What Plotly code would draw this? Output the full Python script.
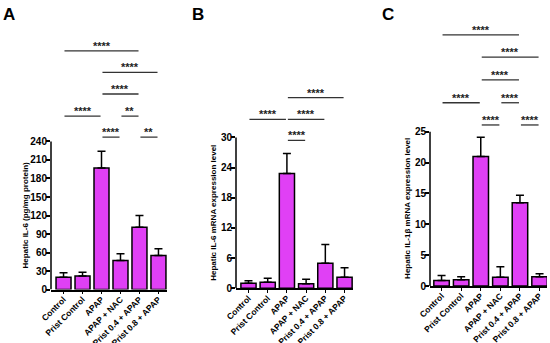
import plotly.graph_objects as go

categories = ["Control", "Prist Control", "APAP", "APAP + NAC", "Prist 0.4 + APAP", "Prist 0.8 + APAP"]

# Panel A: Hepatic IL-6 (pg/mg protein)
a_mean = [20, 22, 197, 47, 101, 55]
a_err = [7, 6, 27, 11, 19, 11]
a_ticks = [0, 30, 60, 90, 120, 150, 180, 210, 240]
a_sig = [(0, 4, 387, "****"), (2, 5, 352, "****"), (2, 4, 317, "****"),
         (0, 2, 281, "****"), (3, 4, 281, "**"), (2, 3, 247, "****"), (4, 5, 247, "**")]

# Panel B: Hepatic IL-6 mRNA expression level
b_mean = [1.0, 1.2, 22.8, 0.9, 5.0, 2.2]
b_err = [0.5, 0.8, 4.0, 0.9, 3.7, 1.9]
b_ticks = [0, 6, 12, 18, 24, 30]
b_sig = [(2, 5, 37.9, "****"), (0, 2, 33.6, "****"), (2, 4, 33.6, "****"), (2, 3, 29.4, "****")]

# Panel C: Hepatic IL-1β mRNA expression level
c_mean = [0.9, 1.0, 21.0, 1.4, 13.5, 1.5]
c_err = [0.8, 0.5, 3.1, 1.7, 1.2, 0.5]
c_ticks = [0, 5, 10, 15, 20, 25]
c_sig = [(0, 4, 40.7, "****"), (2, 5, 37.1, "****"), (2, 4, 33.4, "****"),
         (0, 2, 29.7, "****"), (3, 4, 29.7, "****"), (2, 3, 26.1, "****"), (4, 5, 26.1, "****")]

FONT = "Liberation Sans, Arial, sans-serif"
BAR = "#E040F5"
W, H = 550, 343

panels = [
    dict(mean=a_mean, err=a_err, ticks=a_ticks, sig=a_sig, xdom=(51, 167), xr=(-0.66, 5.45),
         y0px=289.5, ppu=0.6167, title="Hepatic IL-6 (pg/mg protein)", tx=25, letter="A", lx=9),
    dict(mean=b_mean, err=b_err, ticks=b_ticks, sig=b_sig, xdom=(236, 353), xr=(-0.65, 5.44),
         y0px=288.3, ppu=5.03, title="Hepatic IL-6 mRNA expression level", tx=214, letter="B", lx=198),
    dict(mean=c_mean, err=c_err, ticks=c_ticks, sig=c_sig, xdom=(430, 547), xr=(-0.59, 5.38),
         y0px=286.0, ppu=6.17, title="Hepatic IL-1β mRNA expression level", tx=408, letter="C", lx=388),
]

TOPPX = 18
fig = go.Figure()
shapes = []
annotations = []
for k, p in enumerate(panels):
    n = "" if k == 0 else str(k + 1)
    xa, ya = "x" + n, "y" + n
    fig.add_trace(go.Bar(
        x=list(range(len(categories))), y=p["mean"], xaxis=xa, yaxis=ya, width=0.79,
        marker=dict(color=BAR, line=dict(color="black", width=1.5)),
        error_y=dict(type="data", array=p["err"], arrayminus=[0] * 6, symmetric=False,
                     color="black", thickness=1.5, width=4),
        showlegend=False))
    ytop = (p["y0px"] - TOPPX) / p["ppu"]
    fig.layout["xaxis" + n] = dict(
        domain=[p["xdom"][0] / W, p["xdom"][1] / W], range=list(p["xr"]), anchor=ya,
        tickmode="array", tickvals=list(range(6)), ticktext=categories, tickangle=-45,
        showline=True, linecolor="black", linewidth=1.5, ticks="outside", ticklen=3,
        tickwidth=1.2, tickcolor="black", showgrid=False, zeroline=False, automargin=False,
        ticklabelstandoff=-3,
        tickfont=dict(family=FONT, size=8.5, color="black", weight="bold"))
    fig.layout["yaxis" + n] = dict(
        domain=[(H - p["y0px"]) / H, (H - TOPPX) / H], range=[0, ytop], anchor=xa,
        tickmode="array", tickvals=p["ticks"], showline=False, ticks="outside", ticklen=4,
        tickwidth=1.5, tickcolor="black", showgrid=False, zeroline=False, automargin=False,
        ticklabelstandoff=-3,
        tickfont=dict(family=FONT, size=10, color="black", weight="bold"))
    # y axis line only up to last tick
    shapes.append(dict(type="line", xref=xa + " domain", yref=ya, x0=0, x1=0, y0=0,
                       y1=p["ticks"][-1], line=dict(color="black", width=1.5)))
    for (i, j, lvl, lab) in p["sig"]:
        shapes.append(dict(type="line", xref=xa, yref=ya, x0=i + 0.05, x1=j - 0.05,
                           y0=lvl, y1=lvl, line=dict(color="#333333", width=1.3)))
        annotations.append(dict(x=(i + j) / 2, y=lvl, xref=xa, yref=ya, text=lab,
                                showarrow=False, yanchor="bottom", yshift=-3,
                                font=dict(family=FONT, size=11, color="#222222", weight="bold")))
    ymid = (p["y0px"] + p["y0px"] - p["ticks"][-1] * p["ppu"]) / 2
    annotations.append(dict(x=p["tx"] / W, y=(H - ymid) / H, xref="paper", yref="paper",
                            text=p["title"], textangle=-90, showarrow=False,
                            xanchor="center", yanchor="middle",
                            font=dict(family=FONT, size=8, color="black", weight="bold")))
    annotations.append(dict(x=p["lx"] / W, y=(H - 14) / H, xref="paper", yref="paper",
                            text=p["letter"], showarrow=False, xanchor="center", yanchor="middle",
                            font=dict(family=FONT, size=17, color="black", weight="bold")))

fig.update_layout(width=W, height=H, margin=dict(l=0, r=0, t=0, b=0, autoexpand=False),
                  paper_bgcolor="white", plot_bgcolor="white",
                  shapes=shapes, annotations=annotations, bargap=0.2)
fig.write_html("out.html", config={"displayModeBar": False},
               post_script="document.body.style.margin='0px';document.body.style.overflow='hidden';")
